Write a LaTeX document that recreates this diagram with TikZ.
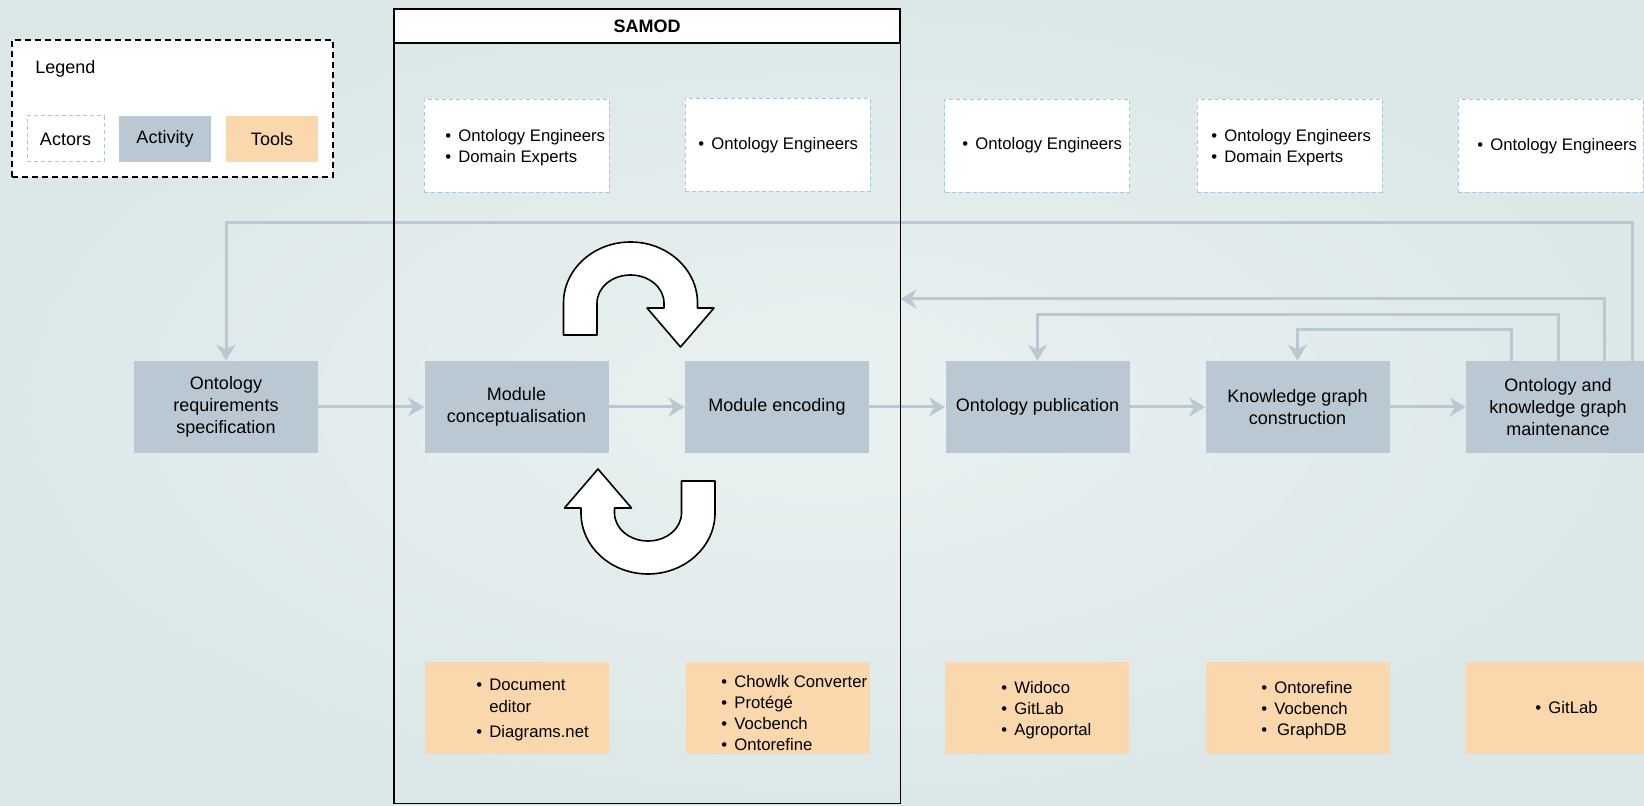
\documentclass[tikz,border=0pt]{standalone}
\usepackage{fontspec}
\setmainfont{Liberation Sans}
\usetikzlibrary{arrows.meta,calc}

\definecolor{bgin}{HTML}{EAF1F1}
\definecolor{bgout}{HTML}{DCE8E8}
\definecolor{actfill}{HTML}{BAC8D3}
\definecolor{toolfill}{HTML}{FAD7AC}
\definecolor{actorline}{HTML}{A6C8D8}
\definecolor{flowline}{HTML}{BAC8D3}

% bullet item with a fixed indent for the text
\newcommand{\itm}[1]{\makebox[6.5pt][l]{\textbullet}#1}

\tikzset{
  pics/uturn/.style={code={
    \draw[uturn] (-67,32) -- (-67,0)
      arc[start angle=180, end angle=0, x radius=33.5pt, y radius=30.5pt]
      -- (67,5) -- (83.5,5) -- (50,44) -- (16.5,5) -- (33.5,5) -- (33.5,0)
      arc[start angle=0, end angle=180, x radius=16.75pt, y radius=14pt]
      -- (-33.5,32) -- cycle;
  }}
}

\begin{document}
\begin{tikzpicture}[x=0.5pt,y=-0.5pt,
  activity/.style={fill=actfill, minimum width=92pt, minimum height=46pt,
    inner sep=0pt, align=center, font=\fontsize{9}{11}\selectfont},
  actor/.style={fill=white, draw=actorline, dash pattern=on 2pt off 1.5pt,
    line width=0.5pt, minimum width=92.5pt, minimum height=46.5pt, inner sep=0pt},
  tool/.style={fill=toolfill, minimum width=92pt, minimum height=46pt, inner sep=0pt},
  items/.style={anchor=west, inner sep=0pt, align=left,
    font=\fontsize{8.35}{10.5}\selectfont},
  flow/.style={draw=flowline, line width=1.5pt,
    -{Stealth[length=8pt,width=9.5pt,inset=2.5pt]}},
  uturn/.style={fill=white, draw=black, line width=0.8pt, line join=round}
]
\useasboundingbox (0,0) rectangle (1644,806);
\clip (0,0) rectangle (1644,806);
\shade[inner color=bgin, outer color=bgout] (0,0) rectangle (1644,806);

% legend
\node[draw=black, dash pattern=on 3pt off 2pt, line width=0.7pt, fill=white,
  minimum width=160.5pt, minimum height=68.5pt, inner sep=0pt] (legend) at (172.5,108.5) {};
\node[anchor=west, inner sep=0pt, font=\fontsize{9}{11}\selectfont] (legendtitle) at (35,68.5) {Legend};
\node[actor, minimum width=38.5pt, minimum height=23pt, font=\fontsize{9}{11}\selectfont] (keyactor) at (65.5,139) {Actors};
\node[activity, minimum width=46pt, minimum height=23pt] (keyactivity) at (165,139) {Activity};
\node[tool, minimum width=46pt, minimum height=23pt, font=\fontsize{9}{11}\selectfont] (keytool) at (272,139) {Tools};

% SAMOD area and its title bar
\node[minimum width=253pt, minimum height=397pt, inner sep=0pt] (samodarea) at (647,406) {};
\node[draw=black, line width=0.9pt, fill=white, minimum width=253pt, minimum height=17pt,
  inner sep=0pt, font=\fontsize{9}{11}\selectfont\bfseries] (samodhead) at (647,26) {SAMOD};

% actors
\node[actor] (a1) at (516.5,146) {};
\node[items] (a1l) at (445,148) {\itm{Ontology Engineers}\\\itm{Domain Experts}};
\node[actor] (a2) at (777.5,145) {};
\node[items] (a2l) at (698,145) {\itm{Ontology Engineers}};
\node[actor] (a3) at (1037,146) {};
\node[items] (a3l) at (962,145) {\itm{Ontology Engineers}};
\node[actor] (a4) at (1289.5,146) {};
\node[items] (a4l) at (1211,148) {\itm{Ontology Engineers}\\\itm{Domain Experts}};
\node[actor] (a5) at (1550.5,146) {};
\node[items] (a5l) at (1477,146) {\itm{Ontology Engineers}};

% activities
\node[activity] (req) at (226,407) {Ontology\\requirements\\specification};
\node[activity] (conc) at (516.5,407) {Module\\conceptualisation};
\node[activity] (enc) at (777,407) {Module encoding};
\node[activity] (pub) at (1037.5,407) {Ontology publication};
\node[activity] (kg) at (1297.5,407) {Knowledge graph\\construction};
\node[activity] (maint) at (1558,407) {Ontology and\\knowledge graph\\maintenance};

% tools
\node[tool] (t1) at (517,708) {};
\node[items] (t1l) at (476,710) {\itm{Document}\\[0.5pt]\hspace*{6.5pt}editor\\[2pt]\itm{Diagrams.net}};
\node[tool] (t2) at (777.5,708) {};
\node[items] (t2l) at (721,713) {\itm{Chowlk Converter}\\\itm{Protégé}\\\itm{Vocbench}\\\itm{Ontorefine}};
\node[tool] (t3) at (1037,708) {};
\node[items] (t3l) at (1001,710) {\itm{Widoco}\\\itm{GitLab}\\\itm{Agroportal}};
\node[tool] (t4) at (1297.5,708) {};
\node[items] (t4l) at (1261,710) {\itm{Ontorefine}\\\itm{Vocbench}\\\itm{\,GraphDB}};
\node[tool] (t5) at (1558,708) {};
\node[items] (t5l) at (1535,708) {\itm{GitLab}};

% main flow
\draw[flow] (req) -- (conc);
\draw[flow] (conc) -- (enc);
\draw[flow] (enc) -- (pub);
\draw[flow] (pub) -- (kg);
\draw[flow] (kg) -- (maint);

% feedback loops from maintenance
\draw[flow] ([xshift=83.5pt]maint.north west) |- ([yshift=69pt]req.north) -- (req.north);
\draw[flow] ([xshift=69.5pt]maint.north west) |- ([yshift=53.5pt]samodarea.east);
\draw[flow] ([xshift=46.5pt]maint.north west) |- ([yshift=23pt]pub.north) -- (pub.north);
\draw[flow] ([xshift=23pt]maint.north west) |- ([yshift=15.5pt]kg.north) -- (kg.north);

% iteration arrows
\pic (utop) at (630.5,303) {uturn};
\pic[rotate=180] (ubot) at (648,513) {uturn};

% SAMOD frame
\draw[line width=0.9pt] (samodarea.north west) rectangle (samodarea.south east);
\end{tikzpicture}
\end{document}
